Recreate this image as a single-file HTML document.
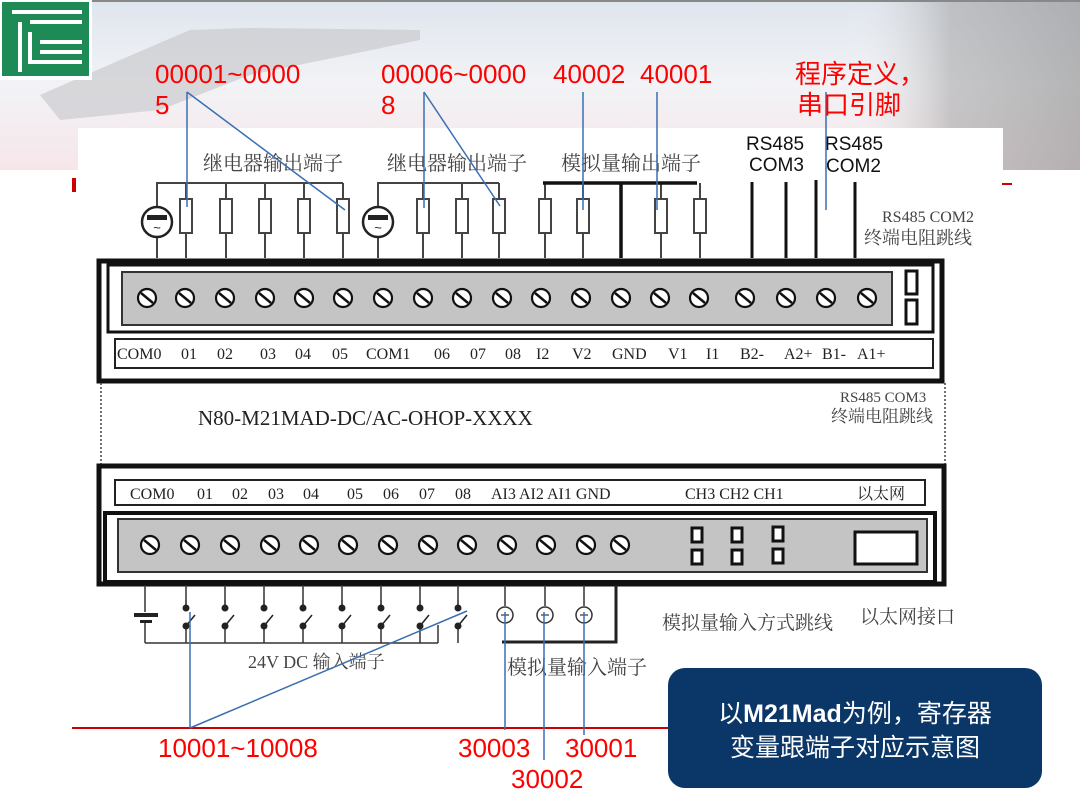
<!DOCTYPE html>
<html><head><meta charset="utf-8"><style>
html,body{margin:0;padding:0;width:1080px;height:810px;overflow:hidden;background:#fff}
svg{display:block}
.cn{font-family:"Liberation Serif","Noto Serif CJK SC",serif;fill:#444}
.lb{font-family:"Liberation Serif","Noto Serif CJK SC",serif;fill:#222;font-size:16px}
.red{font-family:"Liberation Sans","Noto Sans CJK SC",sans-serif;fill:#f00;font-size:26px}
</style></head><body>
<svg width="1080" height="810" viewBox="0 0 1080 810" xmlns="http://www.w3.org/2000/svg">
<defs>
<linearGradient id="sky" x1="0" y1="0" x2="0" y2="1">
<stop offset="0" stop-color="#dfe5ee"/><stop offset="0.5" stop-color="#f2f3f6"/><stop offset="1" stop-color="#f6e6ea"/></linearGradient>
<linearGradient id="sky2" x1="0" y1="0" x2="1" y2="0">
<stop offset="0" stop-color="#fff" stop-opacity="0"/><stop offset="0.78" stop-color="#fff" stop-opacity="0"/><stop offset="0.88" stop-color="#9a9a9a" stop-opacity="0.5"/><stop offset="1" stop-color="#8a8a8a" stop-opacity="0.6"/></linearGradient>
<g id="sc"><circle r="9" fill="#fff" stroke="#111" stroke-width="2.2"/><line x1="-6" y1="-5" x2="6" y2="5" stroke="#111" stroke-width="2.5"/></g>
<g id="rs"><rect x="-6" y="-17" width="12" height="34" fill="#fff" stroke="#444" stroke-width="2"/></g>
<g id="lamp"><circle r="15" fill="#fff" stroke="#222" stroke-width="2.5"/><rect x="-10" y="-7" width="20" height="5" fill="#222"/><text x="0" y="10" text-anchor="middle" font-size="13" font-family="Liberation Sans" fill="#222">~</text></g>
<g id="sw"><line x1="0" y1="-18" x2="0" y2="-10" stroke="#222" stroke-width="1.5"/><circle cx="0" cy="-10" r="3.5" fill="#222"/><circle cx="0" cy="8" r="3.5" fill="#222"/><line x1="0" y1="8" x2="9" y2="-3" stroke="#222" stroke-width="1.5"/></g>
</defs>
<rect x="0" y="0" width="1080" height="170" fill="url(#sky)"/>
<rect x="0" y="0" width="1080" height="170" fill="url(#sky2)"/>
<path d="M40 95 L120 60 L190 30 L250 28 L420 30 L420 40 L250 75 L160 110 L60 120 Z" fill="#c4c4c8" opacity="0.6"/>
<rect x="0" y="0" width="1080" height="2" fill="#888"/>
<rect x="0" y="0" width="92" height="80" fill="#fff"/>
<rect x="2" y="2" width="87" height="74" fill="#1e8a55"/>
<path d="M12 12 H82 M20 22 V72 M30 22 H82 M30 32 V62 H82 M40 42 H82 M40 52 H82" stroke="#fff" stroke-width="4" fill="none"/>
<rect x="78" y="128" width="925" height="682" fill="#fff"/>
<rect x="0" y="170" width="1080" height="640" fill="#fff"/>
<rect x="72" y="178" width="4" height="14" fill="#c00"/>
<rect x="1002" y="183" width="10" height="2" fill="#c00"/>
<g stroke="#444" stroke-width="2" fill="none">
<polyline points="157,207 157,183 343,183"/>
<line x1="186" y1="183" x2="186" y2="258"/><line x1="226" y1="183" x2="226" y2="258"/><line x1="265" y1="183" x2="265" y2="258"/><line x1="304" y1="183" x2="304" y2="258"/><line x1="343" y1="183" x2="343" y2="258"/>
<line x1="157" y1="237" x2="157" y2="258"/>
<polyline points="378,207 378,183 499,183"/>
<line x1="423" y1="183" x2="423" y2="258"/><line x1="462" y1="183" x2="462" y2="258"/><line x1="499" y1="183" x2="499" y2="258"/>
<line x1="378" y1="237" x2="378" y2="258"/>
<line x1="545" y1="183" x2="545" y2="258"/><line x1="583" y1="183" x2="583" y2="258"/><line x1="661" y1="183" x2="661" y2="258"/><line x1="700" y1="183" x2="700" y2="258"/>
</g>
<line x1="543" y1="183" x2="697" y2="183" stroke="#111" stroke-width="3.5"/>
<line x1="621" y1="183" x2="621" y2="258" stroke="#111" stroke-width="3.5"/>
<g stroke="#111" stroke-width="3"><line x1="752" y1="182" x2="752" y2="258"/><line x1="786" y1="182" x2="786" y2="258"/><line x1="816" y1="180" x2="816" y2="258"/><line x1="855" y1="182" x2="855" y2="258"/></g>
<use href="#rs" x="186" y="216"/><use href="#rs" x="226" y="216"/><use href="#rs" x="265" y="216"/><use href="#rs" x="304" y="216"/><use href="#rs" x="343" y="216"/>
<use href="#rs" x="423" y="216"/><use href="#rs" x="462" y="216"/><use href="#rs" x="499" y="216"/>
<use href="#rs" x="545" y="216"/><use href="#rs" x="583" y="216"/><use href="#rs" x="661" y="216"/><use href="#rs" x="700" y="216"/>
<use href="#lamp" x="157" y="222"/><use href="#lamp" x="378" y="222"/>
<text class="cn" x="203" y="170" font-size="20">继电器输出端子</text>
<text class="cn" x="387" y="170" font-size="20">继电器输出端子</text>
<text class="cn" x="561" y="170" font-size="20">模拟量输出端子</text>
<text x="746" y="150" font-family="Liberation Sans" font-size="19" fill="#111">RS485</text>
<text x="749" y="171" font-family="Liberation Sans" font-size="19" fill="#111">COM3</text>
<text x="825" y="150" font-family="Liberation Sans" font-size="19" fill="#111">RS485</text>
<text x="826" y="172" font-family="Liberation Sans" font-size="19" fill="#111">COM2</text>
<text class="cn" x="882" y="222" font-size="16">RS485 COM2</text>
<text class="cn" x="864" y="244" font-size="18">终端电阻跳线</text>
<rect x="99" y="261" width="843" height="120" fill="#fff" stroke="#111" stroke-width="5"/>
<rect x="108" y="265" width="825" height="67" fill="#fff" stroke="#111" stroke-width="3"/>
<rect x="122" y="272" width="770" height="53" fill="#c4c4c4" stroke="#333" stroke-width="2"/>
<rect x="906" y="271" width="11" height="23" fill="#fff" stroke="#111" stroke-width="3"/>
<rect x="906" y="300" width="11" height="24" fill="#fff" stroke="#111" stroke-width="3"/>
<rect x="115" y="339" width="818" height="29" fill="#fff" stroke="#222" stroke-width="2"/>
<g>
<use href="#sc" x="147" y="298"/><use href="#sc" x="185" y="298"/><use href="#sc" x="225" y="298"/><use href="#sc" x="265" y="298"/><use href="#sc" x="304" y="298"/><use href="#sc" x="343" y="298"/><use href="#sc" x="383" y="298"/><use href="#sc" x="423" y="298"/><use href="#sc" x="462" y="298"/><use href="#sc" x="502" y="298"/><use href="#sc" x="541" y="298"/><use href="#sc" x="581" y="298"/><use href="#sc" x="621" y="298"/><use href="#sc" x="660" y="298"/><use href="#sc" x="699" y="298"/><use href="#sc" x="745" y="298"/><use href="#sc" x="786" y="298"/><use href="#sc" x="826" y="298"/><use href="#sc" x="867" y="298"/>
</g>
<g class="lb"><text x="117" y="359">COM0</text><text x="181" y="359">01</text><text x="217" y="359">02</text><text x="260" y="359">03</text><text x="295" y="359">04</text><text x="332" y="359">05</text><text x="366" y="359">COM1</text><text x="434" y="359">06</text><text x="470" y="359">07</text><text x="505" y="359">08</text><text x="536" y="359">I2</text><text x="572" y="359">V2</text><text x="612" y="359">GND</text><text x="668" y="359">V1</text><text x="706" y="359">I1</text><text x="740" y="359">B2-</text><text x="784" y="359">A2+</text><text x="822" y="359">B1-</text><text x="857" y="359">A1+</text></g>
<line x1="101" y1="383" x2="101" y2="465" stroke="#444" stroke-width="1.5" stroke-dasharray="2,2"/>
<line x1="945" y1="383" x2="945" y2="465" stroke="#444" stroke-width="1.5" stroke-dasharray="2,2"/>
<text x="198" y="425" font-family="Liberation Serif" font-size="21" fill="#222">N80-M21MAD-DC/AC-OHOP-XXXX</text>
<text class="cn" x="840" y="402" font-size="15">RS485 COM3</text>
<text class="cn" x="831" y="422" font-size="17">终端电阻跳线</text>
<rect x="99" y="466" width="845" height="118" fill="#fff" stroke="#111" stroke-width="5"/>
<rect x="115" y="480" width="810" height="25" fill="#fff" stroke="#222" stroke-width="2"/>
<rect x="105" y="513" width="830" height="69" fill="#fff" stroke="#111" stroke-width="4"/>
<rect x="118" y="519" width="809" height="53" fill="#c4c4c4" stroke="#333" stroke-width="2"/>
<g class="lb"><text x="130" y="499">COM0</text><text x="197" y="499">01</text><text x="232" y="499">02</text><text x="268" y="499">03</text><text x="303" y="499">04</text><text x="347" y="499">05</text><text x="383" y="499">06</text><text x="419" y="499">07</text><text x="455" y="499">08</text><text x="491" y="499">AI3 AI2 AI1 GND</text><text x="685" y="499">CH3 CH2 CH1</text><text x="857" y="499">以太网</text></g>
<use href="#sc" x="150" y="545"/><use href="#sc" x="190" y="545"/><use href="#sc" x="230" y="545"/><use href="#sc" x="270" y="545"/><use href="#sc" x="309" y="545"/><use href="#sc" x="348" y="545"/><use href="#sc" x="388" y="545"/><use href="#sc" x="428" y="545"/><use href="#sc" x="467" y="545"/><use href="#sc" x="507" y="545"/><use href="#sc" x="546" y="545"/><use href="#sc" x="586" y="545"/><use href="#sc" x="620" y="545"/>
<g fill="#fff" stroke="#111" stroke-width="3">
<rect x="692" y="528" width="10" height="14"/><rect x="692" y="550" width="10" height="14"/>
<rect x="732" y="528" width="10" height="14"/><rect x="732" y="550" width="10" height="14"/>
<rect x="773" y="527" width="10" height="14"/><rect x="773" y="549" width="10" height="14"/>
<rect x="855" y="532" width="62" height="32"/></g>
<g stroke="#333" stroke-width="1.5" fill="none">
<line x1="145" y1="585" x2="145" y2="612"/><line x1="145" y1="622" x2="145" y2="643"/>
<line x1="145" y1="643" x2="438" y2="643"/>
<line x1="186" y1="625" x2="186" y2="643"/><line x1="225" y1="625" x2="225" y2="643"/><line x1="264" y1="625" x2="264" y2="643"/><line x1="303" y1="625" x2="303" y2="643"/><line x1="342" y1="625" x2="342" y2="643"/><line x1="381" y1="625" x2="381" y2="643"/><line x1="420" y1="625" x2="420" y2="643"/><line x1="438" y1="625" x2="438" y2="643"/>
<line x1="186" y1="585" x2="186" y2="600"/><line x1="225" y1="585" x2="225" y2="600"/><line x1="264" y1="585" x2="264" y2="600"/><line x1="303" y1="585" x2="303" y2="600"/><line x1="342" y1="585" x2="342" y2="600"/><line x1="381" y1="585" x2="381" y2="600"/><line x1="420" y1="585" x2="420" y2="600"/><line x1="458" y1="585" x2="458" y2="600"/>
<line x1="458" y1="625" x2="458" y2="643"/>
<line x1="505" y1="585" x2="505" y2="606"/><line x1="545" y1="585" x2="545" y2="606"/><line x1="584" y1="585" x2="584" y2="606"/>
</g>
<rect x="134" y="613" width="24" height="4" fill="#222"/><rect x="140" y="620" width="12" height="3" fill="#222"/>
<use href="#sw" x="186" y="618"/><use href="#sw" x="225" y="618"/><use href="#sw" x="264" y="618"/><use href="#sw" x="303" y="618"/><use href="#sw" x="342" y="618"/><use href="#sw" x="381" y="618"/><use href="#sw" x="420" y="618"/><use href="#sw" x="458" y="618"/>
<g fill="#fff" stroke="#333" stroke-width="1.5"><circle cx="505" cy="615" r="8"/><circle cx="545" cy="615" r="8"/><circle cx="584" cy="615" r="8"/></g>
<g stroke="#333" stroke-width="1.2"><line x1="501" y1="615" x2="509" y2="615"/><line x1="541" y1="615" x2="549" y2="615"/><line x1="580" y1="615" x2="588" y2="615"/></g>
<polyline points="616,585 616,642 502,642" fill="none" stroke="#222" stroke-width="3"/>
<text class="cn" x="248" y="668" font-size="18">24V DC 输入端子</text>
<text class="cn" x="507" y="674" font-size="20">模拟量输入端子</text>
<text class="cn" x="662" y="629" font-size="19">模拟量输入方式跳线</text>
<text class="cn" x="860" y="623" font-size="19">以太网接口</text>
<line x1="72" y1="728" x2="680" y2="728" stroke="#c00" stroke-width="2"/>
<g stroke="#3a6fb0" stroke-width="1.5" fill="none">
<line x1="187" y1="92" x2="187" y2="207"/><line x1="187" y1="92" x2="345" y2="210"/>
<line x1="424" y1="92" x2="424" y2="208"/><line x1="424" y1="92" x2="500" y2="206"/>
<line x1="583" y1="92" x2="583" y2="210"/><line x1="657" y1="92" x2="657" y2="210"/>
<line x1="826" y1="92" x2="826" y2="210"/>
<line x1="190" y1="728" x2="190" y2="612"/><line x1="190" y1="728" x2="467" y2="611"/>
<line x1="505" y1="730" x2="505" y2="612"/><line x1="544" y1="760" x2="544" y2="612"/><line x1="584" y1="735" x2="584" y2="612"/>
</g>
<text class="red" x="155" y="83">00001~0000</text><text class="red" x="155" y="114">5</text>
<text class="red" x="381" y="83">00006~0000</text><text class="red" x="381" y="114">8</text>
<text class="red" x="553" y="83">40002</text><text class="red" x="640" y="83">40001</text>
<text class="red" x="795" y="83">程序定义，</text><text class="red" x="797" y="114">串口引脚</text>
<text class="red" x="158" y="757">10001~10008</text>
<text class="red" x="458" y="757">30003</text><text class="red" x="565" y="757">30001</text>
<text class="red" x="511" y="788">30002</text>
<rect x="668" y="668" width="374" height="120" rx="17" fill="#0b3668"/>
<text x="855" y="722" text-anchor="middle" style="font-family:'Liberation Sans','Noto Sans CJK SC',sans-serif" font-size="25" fill="#fff">以<tspan font-weight="bold">M21Mad</tspan>为例，寄存器</text>
<text x="855" y="756" text-anchor="middle" style="font-family:'Liberation Sans','Noto Sans CJK SC',sans-serif" font-size="25" fill="#fff">变量跟端子对应示意图</text>
</svg>
</body></html>
